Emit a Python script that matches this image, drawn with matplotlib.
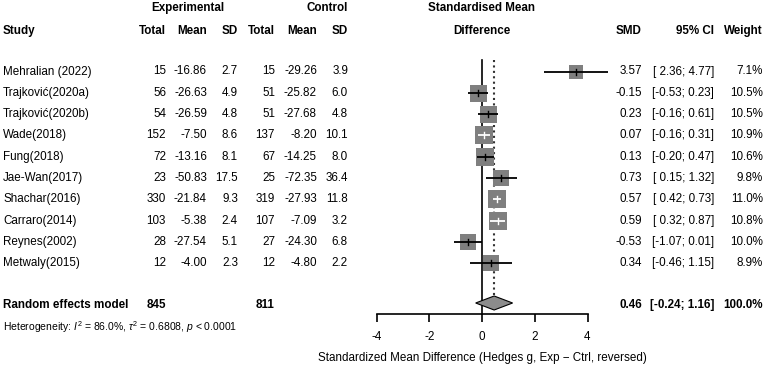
import matplotlib
matplotlib.use('Agg')
import matplotlib.pyplot as plt
import matplotlib.transforms as mtransforms
import numpy as np

plt.rcParams['font.family'] = ['Liberation Sans', 'DejaVu Sans']
plt.rcParams['mathtext.fontset'] = 'custom'
plt.rcParams['mathtext.rm'] = 'Liberation Sans'
plt.rcParams['mathtext.it'] = 'Liberation Sans:italic'

# Данные исследований
studies = ['Mehralian (2022)', 'Trajković(2020a)', 'Trajković(2020b)', 'Wade(2018)',
           'Fung(2018)', 'Jae-Wan(2017)', 'Shachar(2016)', 'Carraro(2014)',
           'Reynes(2002)', 'Metwaly(2015)']
exp_n = [15, 56, 54, 152, 72, 23, 330, 103, 28, 12]
exp_mean = [-16.86, -26.63, -26.59, -7.50, -13.16, -50.83, -21.84, -5.38, -27.54, -4.00]
exp_sd = [2.7, 4.9, 4.8, 8.6, 8.1, 17.5, 9.3, 2.4, 5.1, 2.3]
ctl_n = [15, 51, 51, 137, 67, 25, 319, 107, 27, 12]
ctl_mean = [-29.26, -25.82, -27.68, -8.20, -14.25, -72.35, -27.93, -7.09, -24.30, -4.80]
ctl_sd = [3.9, 6.0, 4.8, 10.1, 8.0, 36.4, 11.8, 3.2, 6.8, 2.2]
smd = [3.57, -0.15, 0.23, 0.07, 0.13, 0.73, 0.57, 0.59, -0.53, 0.34]
ci_lo = [2.36, -0.53, -0.16, -0.16, -0.20, 0.15, 0.42, 0.32, -1.07, -0.46]
ci_hi = [4.77, 0.23, 0.61, 0.31, 0.47, 1.32, 0.73, 0.87, 0.01, 1.15]
weight = [7.1, 10.5, 10.5, 10.9, 10.6, 9.8, 11.0, 10.8, 10.0, 8.9]

# Итоговая модель
re_exp_n, re_ctl_n = 845, 811
re_smd, re_lo, re_hi = 0.46, -0.24, 1.16
het_text = r'Heterogeneity: $I^2$ = 86.0%, $\tau^2$ = 0.6808, $p$ < 0.0001'
xticks = [-4, -2, 0, 2, 4]
xlabel = 'Standardized Mean Difference (Hedges g, Exp \u2212 Ctrl, reversed)'

W, H, DPI = 767, 368, 100
fig = plt.figure(figsize=(W / DPI, H / DPI), dpi=DPI)

# Оси для графика (y в пикселях сверху)
x0_px, x1_px = 376.5, 587.5
ax = fig.add_axes([x0_px / W, 0, (x1_px - x0_px) / W, 1])
ax.set_xlim(-4, 4)
ax.set_ylim(H, 0)
ax.patch.set_alpha(0)
px_per_unit = (x1_px - x0_px) / 8

row0, dy = 71.5, 21.3
rows = [row0 + i * dy for i in range(len(studies))]
y_sum = 305.0
y_axis = 314.0
y_top = 60.0

fs = 8.4
tr = mtransforms.blended_transform_factory(fig.transFigure, ax.transData)

def put(xpx, y, s, ha='right', bold=False, size=fs):
    ax.text(xpx / W, y, s, transform=tr, ha=ha, va='center', fontsize=size,
            fontweight='bold' if bold else 'normal', clip_on=False)

# Заголовки
put(188, 8, 'Experimental', ha='center', bold=True)
put(348, 8, 'Control', bold=True)
put(482, 8, 'Standardised Mean', ha='center', bold=True)
put(3, 31, 'Study', ha='left', bold=True)
for xp, s in [(166, 'Total'), (207, 'Mean'), (238, 'SD'), (275, 'Total'),
              (317, 'Mean'), (348, 'SD'), (642, 'SMD'), (714, '95% CI'), (763, 'Weight')]:
    put(xp, 31, s, bold=True)
put(482, 31, 'Difference', ha='center', bold=True)

# Строки исследований
for i, y in enumerate(rows):
    put(3, y, studies[i], ha='left')
    put(166, y, f'{exp_n[i]}')
    put(207, y, f'{exp_mean[i]:.2f}')
    put(238, y, f'{exp_sd[i]:.1f}')
    put(275, y, f'{ctl_n[i]}')
    put(317, y, f'{ctl_mean[i]:.2f}')
    put(348, y, f'{ctl_sd[i]:.1f}')
    put(642, y, f'{smd[i]:.2f}')
    put(714, y, f'[{ci_lo[i]:5.2f}; {ci_hi[i]:.2f}]')
    put(763, y, f'{weight[i]:.1f}%')

    side_px = 17 * np.sqrt(weight[i] / 10.5)
    ax.scatter([smd[i]], [y], marker='s', s=(side_px * 72 / DPI) ** 2,
               color='#7f7f7f', linewidths=0, zorder=2, clip_on=False)
    inside = (ci_hi[i] - ci_lo[i]) * px_per_unit < side_px
    col = 'white' if inside else 'black'
    ax.plot([ci_lo[i], ci_hi[i]], [y, y], color=col, lw=1.3, zorder=3,
            solid_capstyle='butt', clip_on=False)
    ax.plot([smd[i], smd[i]], [y - 3, y + 3], color=col, lw=1.0, zorder=3,
            clip_on=False)

# Итоговая строка
put(3, y_sum, 'Random effects model', ha='left', bold=True)
put(166, y_sum, f'{re_exp_n}', bold=True)
put(275, y_sum, f'{re_ctl_n}', bold=True)
put(642, y_sum, f'{re_smd:.2f}', bold=True)
put(714, y_sum, f'[{re_lo:.2f}; {re_hi:.2f}]', bold=True)
put(763, y_sum, '100.0%', bold=True)
put(3, 327, het_text, ha='left', size=7.5)

# Ромб итоговой оценки
dh = 7
ax.fill([re_lo, re_smd, re_hi, re_smd], [y_sum - 2, y_sum - 2 - dh, y_sum - 2, y_sum - 2 + dh],
        facecolor='#8c8c8c', edgecolor='black', lw=0.8, zorder=3)

# Линии нуля и итоговой оценки
ax.plot([0, 0], [y_top, y_axis], color='black', lw=1.2, zorder=1)
ax.plot([re_smd, re_smd], [y_top, y_sum - 2 - dh], color='#333333', lw=1.5,
        linestyle=(0, (1, 1.6)), zorder=1)

# Ось
for sp in ['top', 'left', 'right']:
    ax.spines[sp].set_visible(False)
ax.spines['bottom'].set_position(('data', y_axis))
ax.spines['bottom'].set_bounds(-4, 4)
ax.spines['bottom'].set_linewidth(1.2)
ax.set_yticks([])
ax.set_xticks(xticks)
ax.set_xticklabels([str(t) for t in xticks])
ax.tick_params(axis='x', direction='out', length=5.5, width=1.2, pad=6.5, labelsize=8.4)
ax.text(0, 358, xlabel, ha='center', va='center', fontsize=8.4)

fig.savefig('out.png', dpi=DPI)
